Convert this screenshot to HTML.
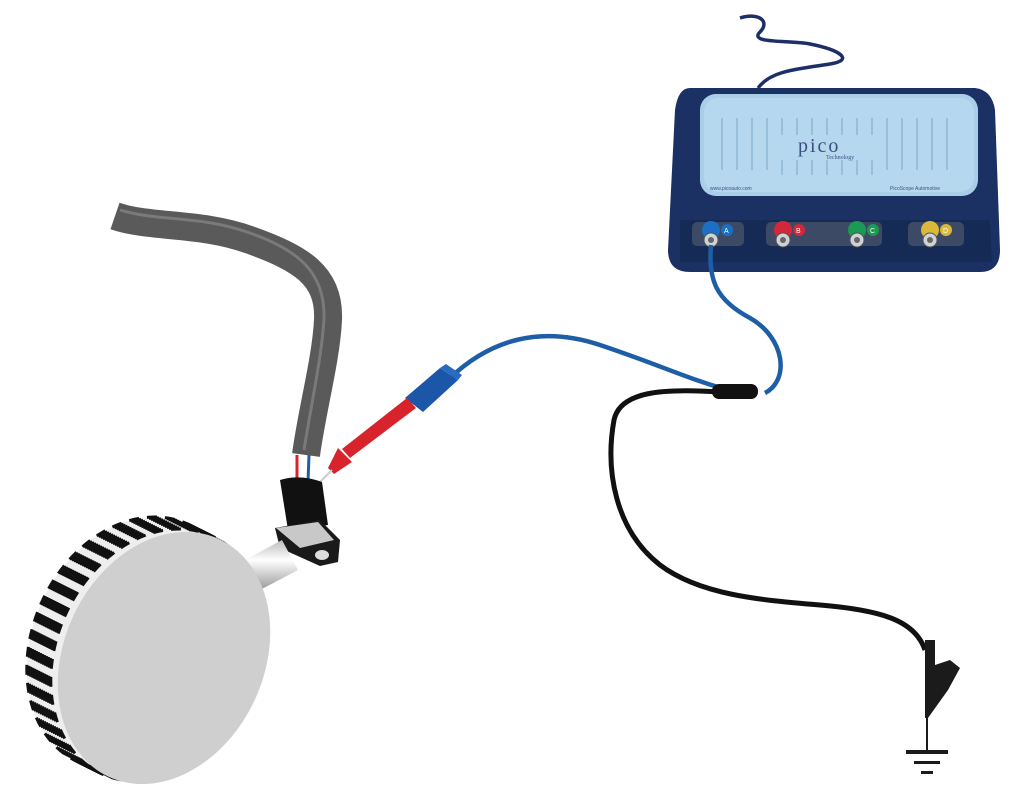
<!DOCTYPE html>
<html><head><meta charset="utf-8"><style>
html,body{margin:0;padding:0;background:#fff;}
svg{display:block;}
</style></head><body>
<svg width="1024" height="786" viewBox="0 0 1024 786" xmlns="http://www.w3.org/2000/svg">
<defs>
<linearGradient id="cyl" x1="0" y1="0" x2="0" y2="1">
<stop offset="0" stop-color="#bbb"/><stop offset="0.4" stop-color="#fff"/><stop offset="1" stop-color="#999"/>
</linearGradient>
<ellipse id="wh" cx="0" cy="0" rx="100" ry="131" transform="rotate(25)"/>
</defs>
<!-- scope top cable -->
<path d="M740,18 C760,12 770,22 760,32 C748,44 790,40 810,44 C840,50 855,60 830,64 C790,70 770,72 758,88" fill="none" stroke="#1c2f66" stroke-width="3.5"/>
<!-- scope body -->
<path d="M690,88 L975,88 Q992,90 995,110 L1000,250 Q1000,272 980,272 L690,272 Q668,272 668,250 L675,110 Q678,88 690,88 Z" fill="#1b3163"/>
<rect x="700" y="94" width="278" height="102" rx="16" fill="#a9cfe8"/>
<rect x="704" y="98" width="270" height="94" rx="14" fill="#b6d8ee"/>
<g stroke="#8fb7d4" stroke-width="1.5">
<line x1="722" y1="118" x2="722" y2="170"/><line x1="737" y1="118" x2="737" y2="170"/><line x1="752" y1="118" x2="752" y2="170"/><line x1="767" y1="118" x2="767" y2="170"/><line x1="782" y1="118" x2="782" y2="135"/><line x1="797" y1="118" x2="797" y2="135"/><line x1="812" y1="118" x2="812" y2="135"/><line x1="827" y1="118" x2="827" y2="135"/><line x1="842" y1="118" x2="842" y2="135"/><line x1="857" y1="118" x2="857" y2="135"/><line x1="872" y1="118" x2="872" y2="135"/><line x1="887" y1="118" x2="887" y2="170"/><line x1="902" y1="118" x2="902" y2="170"/><line x1="917" y1="118" x2="917" y2="170"/><line x1="932" y1="118" x2="932" y2="170"/><line x1="947" y1="118" x2="947" y2="170"/>
<line x1="782" y1="160" x2="782" y2="175"/><line x1="797" y1="160" x2="797" y2="175"/><line x1="812" y1="160" x2="812" y2="175"/><line x1="827" y1="160" x2="827" y2="175"/><line x1="842" y1="160" x2="842" y2="175"/><line x1="857" y1="160" x2="857" y2="175"/><line x1="872" y1="160" x2="872" y2="175"/>
</g>
<text x="798" y="152" font-family="Liberation Serif, serif" font-size="20" fill="#3a4f80" letter-spacing="2">pico</text>
<text x="826" y="159" font-family="Liberation Serif, serif" font-size="6" fill="#3a4f80">Technology</text>
<text x="710" y="190" font-family="Liberation Sans, sans-serif" font-size="5" fill="#3a4f80">www.picoauto.com</text>
<text x="890" y="190" font-family="Liberation Sans, sans-serif" font-size="5" fill="#3a4f80">PicoScope Automotive</text>
<path d="M680,220 L990,220 L992,262 L680,262 Z" fill="#152a55"/>
<rect x="692" y="222" width="52" height="24" rx="5" fill="#3d4a66"/>
<rect x="766" y="222" width="116" height="24" rx="5" fill="#3d4a66"/>
<rect x="908" y="222" width="56" height="24" rx="5" fill="#3d4a66"/>
<circle cx="711" cy="230" r="9" fill="#1b6fc4"/><circle cx="727" cy="230" r="6" fill="#1b6fc4"/><text x="724" y="233" font-family="Liberation Sans" font-size="7" fill="#fff">A</text>
<circle cx="783" cy="230" r="9" fill="#d3283a"/><circle cx="799" cy="230" r="6" fill="#d3283a"/><text x="796" y="233" font-family="Liberation Sans" font-size="7" fill="#fff">B</text>
<circle cx="857" cy="230" r="9" fill="#1a9a52"/><circle cx="873" cy="230" r="6" fill="#1a9a52"/><text x="870" y="233" font-family="Liberation Sans" font-size="7" fill="#fff">C</text>
<circle cx="930" cy="230" r="9" fill="#d9b83a"/><circle cx="946" cy="230" r="6" fill="#d9b83a"/><text x="943" y="233" font-family="Liberation Sans" font-size="7" fill="#fff">D</text>
<g fill="#cfd3d8" stroke="#555" stroke-width="1">
<circle cx="711" cy="240" r="7"/><circle cx="783" cy="240" r="7"/><circle cx="857" cy="240" r="7"/><circle cx="930" cy="240" r="7"/>
</g>
<g fill="#666"><circle cx="711" cy="240" r="3"/><circle cx="783" cy="240" r="3"/><circle cx="857" cy="240" r="3"/><circle cx="930" cy="240" r="3"/></g>
<!-- black ground lead -->
<path d="M720,392 C660,388 620,392 614,420 C605,470 615,530 660,565 C700,595 760,600 820,605 C880,610 915,620 925,650" fill="none" stroke="#111" stroke-width="5"/>
<!-- blue cable -->
<path d="M711,245 C708,280 716,300 750,318 C785,338 790,380 765,393" fill="none" stroke="#1e5ea6" stroke-width="4.5"/>
<path d="M735,392 C690,380 660,365 600,345 C540,325 490,340 450,378" fill="none" stroke="#1e5ea6" stroke-width="4.5"/>
<rect x="712" y="384" width="46" height="15" rx="7" fill="#111"/>
<!-- blue boot -->
<path d="M405,398 L440,368 L458,380 L423,412 Z" fill="#1b56a8"/>
<path d="M440,368 L458,380 L462,375 L446,364 Z" fill="#2a6ac0"/>
<!-- red probe -->
<path d="M407,398 L416,408 L350,458 L342,449 Z" fill="#d8232c"/>
<path d="M338,448 L352,462 L334,474 L328,468 Z" fill="#d8232c"/>
<path d="M332,470 L318,484" stroke="#ccc" stroke-width="2"/>
<!-- grey cable -->
<path d="M115,216 C150,228 200,222 250,240 C300,258 330,275 328,320 C326,360 312,410 306,455" fill="none" stroke="#5a5a5a" stroke-width="28" stroke-linecap="butt"/>
<path d="M120,210 C160,222 200,215 250,233 C298,250 325,272 324,318 C322,355 312,400 304,450" fill="none" stroke="#888" stroke-width="3" opacity="0.7"/>
<line x1="297" y1="455" x2="297" y2="482" stroke="#d8232c" stroke-width="3"/>
<line x1="309" y1="455" x2="308" y2="482" stroke="#1e5ea6" stroke-width="3"/>
<!-- sensor connector -->
<path d="M280,480 Q300,474 322,482 L328,525 L288,530 Z" fill="#111"/>
<path d="M275,528 L320,520 L340,540 L338,562 L320,566 L280,548 Z" fill="#1a1a1a"/>
<path d="M276,528 L318,522 L334,540 L300,548 Z" fill="#c8c8c8"/>
<ellipse cx="322" cy="555" rx="7" ry="5" fill="#ddd"/>
<path d="M245,560 L282,540 L298,570 L260,590 Z" fill="url(#cyl)"/>
<!-- wheel rim: stacked ellipses -->
<g fill="#eeeeee">
<use href="#wh" x="133" y="643"/><use href="#wh" x="141" y="647"/><use href="#wh" x="149" y="651"/><use href="#wh" x="157" y="655"/>
</g>
<g fill="none" stroke="#111" stroke-width="3" stroke-dasharray="10 8">
<use href="#wh" x="133" y="643"/><use href="#wh" x="135" y="644"/><use href="#wh" x="137" y="645"/><use href="#wh" x="139" y="646"/><use href="#wh" x="141" y="647"/><use href="#wh" x="143" y="648"/><use href="#wh" x="145" y="649"/><use href="#wh" x="147" y="650"/><use href="#wh" x="149" y="651"/><use href="#wh" x="151" y="652"/><use href="#wh" x="153" y="653"/><use href="#wh" x="155" y="654"/><use href="#wh" x="157" y="655"/>
</g>
<!-- wheel face -->
<use href="#wh" x="164" y="658" fill="#cfcfcf"/>
<!-- ground symbol -->
<path d="M925,640 L935,640 L935,665 L950,660 L960,668 L948,690 L928,718 L925,718 Z" fill="#1b1b1b"/>
<line x1="927" y1="718" x2="927" y2="750" stroke="#1b1b1b" stroke-width="2"/>
<rect x="906" y="750" width="42" height="4" fill="#1b1b1b"/>
<rect x="914" y="761" width="26" height="3" fill="#1b1b1b"/>
<rect x="921" y="771" width="12" height="3" fill="#1b1b1b"/>
</svg>
</body></html>
